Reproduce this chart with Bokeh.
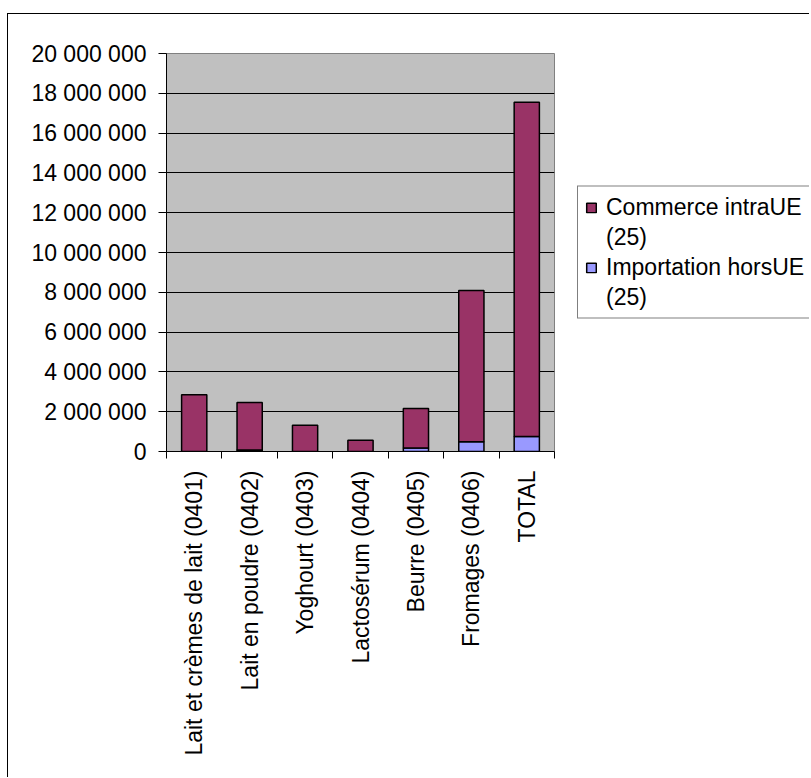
import math
import numpy as np
from bokeh.plotting import figure
from bokeh.layouts import row
from bokeh.models import ColumnDataSource, FixedTicker, Legend, LegendItem
from bokeh.embed import file_html
from bokeh.resources import INLINE

categories = ["Lait et crèmes de lait (0401)", "Lait en poudre (0402)", "Yoghourt (0403)",
              "Lactosérum (0404)", "Beurre (0405)", "Fromages (0406)", "TOTAL"]
intra_ue = [2850000, 2380000, 1320000, 570000, 1990000, 7600000, 16800000]
hors_ue = [0, 80000, 0, 0, 170000, 490000, 750000]
series_names = ["Commerce intraUE", "Importation horsUE"]
series_suffix = "(25)"
series_colors = ["#993366", "#9999ff"]
y_ticks = [0, 2000000, 4000000, 6000000, 8000000, 10000000, 12000000, 14000000, 16000000, 18000000, 20000000]
y_tick_labels = ["0", "2 000 000", "4 000 000", "6 000 000", "8 000 000", "10 000 000",
                 "12 000 000", "14 000 000", "16 000 000", "18 000 000", "20 000 000"]

FONT = "Liberation Sans"
FS = "23px"
x = [i + 0.5 for i in range(len(categories))]
source = ColumnDataSource(dict(x=x, intra=intra_ue, hors=hors_ue))

H = 763
TOP = 39
FRAME_H = 398
BOTTOM = H - TOP - FRAME_H

p = figure(width=547, height=H, x_range=(0, len(categories)), y_range=(0, 20000000),
           output_backend="svg", toolbar_location=None,
           min_border_left=158, min_border_top=TOP, min_border_right=1, min_border_bottom=BOTTOM)
p.background_fill_color = "#c0c0c0"
p.border_fill_color = "white"
p.outline_line_color = "#808080"
p.outline_line_width = 1

p.xgrid.visible = False
p.ygrid.ticker = FixedTicker(ticks=y_ticks)
p.ygrid.grid_line_color = "black"
p.ygrid.grid_line_width = 1

p.vbar_stack(["hors", "intra"], x="x", width=0.455, source=source,
             color=[series_colors[1], series_colors[0]], line_color="black", line_width=1.5)

yax = p.yaxis[0]
yax.ticker = FixedTicker(ticks=y_ticks)
yax.major_label_overrides = {t: l for t, l in zip(y_ticks, y_tick_labels)}
yax.major_tick_out = 8
yax.major_tick_in = 0
yax.minor_tick_out = 0
yax.minor_tick_in = 0
yax.major_label_standoff = 12
yax.axis_line_color = "black"
yax.major_label_text_font = FONT
yax.major_label_text_font_size = FS
yax.major_label_text_color = "black"

xax = p.xaxis[0]
xax.ticker = FixedTicker(ticks=x, minor_ticks=list(range(len(categories) + 1)))
xax.major_label_overrides = {xi: c for xi, c in zip(x, categories)}
xax.major_tick_out = 0
xax.major_tick_in = 0
xax.minor_tick_out = 7
xax.minor_tick_in = 0
xax.major_label_orientation = math.pi / 2
xax.major_label_standoff = 12
xax.axis_line_color = "black"
xax.major_label_text_font = FONT
xax.major_label_text_font_size = FS
xax.major_label_text_color = "black"

# legend panel: a second figure to the right, frames aligned with the main plot
q = figure(width=254, height=H, x_range=(0, 1), y_range=(0, 1),
           output_backend="svg", toolbar_location=None,
           x_axis_location=None, y_axis_location=None,
           min_border_left=22, min_border_top=TOP, min_border_right=0, min_border_bottom=BOTTOM)
q.outline_line_color = None
q.background_fill_color = "white"
q.border_fill_color = "white"
q.xgrid.visible = False
q.ygrid.visible = False

swatch = ColumnDataSource(dict(x=np.array([np.nan]), top=np.array([np.nan])))
r_intra = q.vbar(x="x", top="top", width=0.1, source=swatch, fill_color=series_colors[0],
                 line_color="black", line_width=1.5)
r_hors = q.vbar(x="x", top="top", width=0.1, source=swatch, fill_color=series_colors[1],
                line_color="black", line_width=1.5)
r_blank = q.vbar(x="x", top="top", width=0.1, source=swatch, fill_alpha=0, line_alpha=0)

legend = Legend(items=[LegendItem(label=series_names[0], renderers=[r_intra]),
                       LegendItem(label=series_suffix, renderers=[r_blank]),
                       LegendItem(label=series_names[1], renderers=[r_hors]),
                       LegendItem(label=series_suffix, renderers=[r_blank])],
                location="center_left")
legend.border_line_color = "black"
legend.border_line_width = 1
legend.background_fill_color = "white"
legend.background_fill_alpha = 1
legend.label_text_font = FONT
legend.label_text_font_size = FS
legend.label_text_color = "black"
legend.glyph_width = 12
legend.glyph_height = 12
legend.label_standoff = 9
legend.label_height = 27
legend.label_width = 198
legend.spacing = 3
legend.padding = 7
legend.margin = 0
q.add_layout(legend, "center")

layout = row(p, q, styles={"border-left": "1.5px solid black", "border-top": "1.5px solid black",
                           "margin-top": "13px", "margin-left": "7px"})

open("out.html", "w").write(file_html(layout, INLINE))
